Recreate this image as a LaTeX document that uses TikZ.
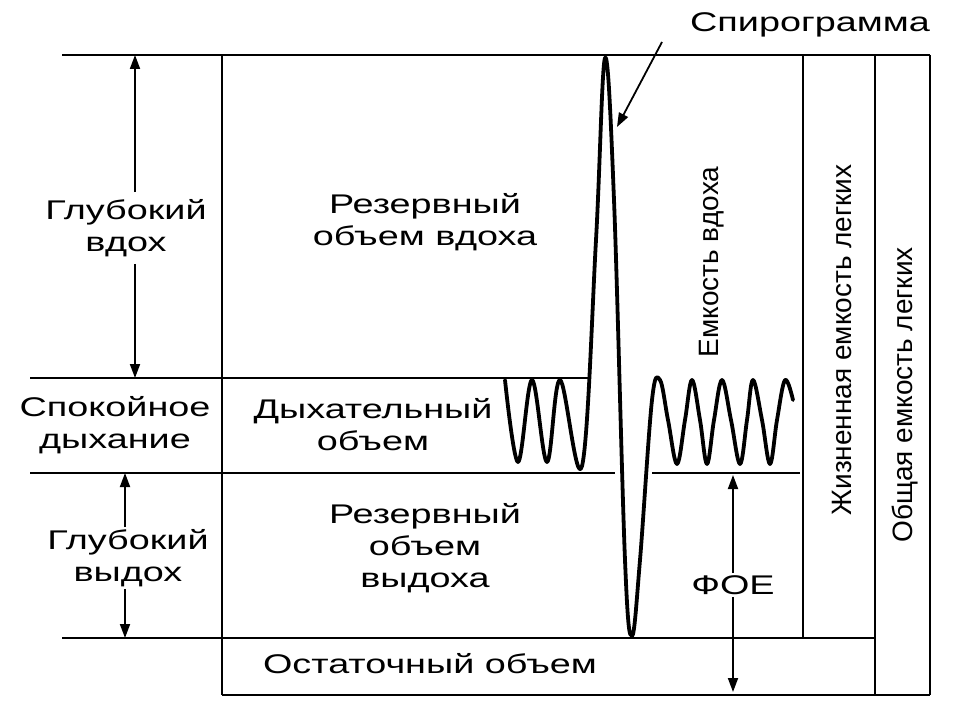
\documentclass[tikz,border=0pt]{standalone}
\usepackage{fontspec}
\setmainfont{Liberation Sans}
\usetikzlibrary{arrows.meta}
\begin{document}
\begin{tikzpicture}[x=1pt,y=-1pt,
  ln/.style={line width=1.8pt},
  lab/.style={font=\fontsize{27}{32}\selectfont,align=center,xscale=1.4,inner sep=2pt},
  rlab/.style={font=\fontsize{28}{32}\selectfont,rotate=90,xscale=1.0},
  arr/.style={ln,-{Triangle[length=14pt,width=10pt]}},
  wave/.style={line width=3.8pt,line join=round,line cap=round}]
\useasboundingbox (0,0) rectangle (962,722);
\fill[white] (0,0) rectangle (962,722);
% frame lines
\draw[ln] (62,55) -- (930,55);
\draw[ln] (30,378) -- (590,378);
\draw[ln] (30,473) -- (615,473);
\draw[ln] (652,473) -- (800,473);
\draw[ln] (62,638) -- (875,638);
\draw[ln] (222,695) -- (930,695);
\draw[ln] (222,55) -- (222,695);
\draw[ln] (803,55) -- (803,638);
\draw[ln] (875,55) -- (875,695);
\draw[ln] (930,55) -- (930,695);
% left labels
\node[lab] (gv) at (126,228) {Глубокий\\вдох};
\node[lab] (sd) at (115,425) {Спокойное\\дыхание};
\node[lab] (gvy) at (128,558) {Глубокий\\выдох};
\coordinate (a1) at (135,55); \coordinate (a2) at (135,378);
\coordinate (b1) at (125,473); \coordinate (b2) at (125,638);
\draw[arr] (gv.north -| a1) ++(0,-5) -- (a1);
\draw[arr] (gv.south -| a2) ++(0,5) -- (a2);
\draw[arr] (gvy.north -| b1) -- (b1);
\draw[arr] (gvy.south -| b2) -- (b2);
% inner labels
\node[lab] (rov) at (425,222) {Резервный\\объем вдоха};
\node[lab] (do) at (373,425) {Дыхательный\\объем};
\node[lab] (rovy) at (425,548) {Резервный\\объем\\выдоха};
\node[lab] (oo) at (430,664) {Остаточный объем};
\node[lab] (foe) at (733,585) {ФОЕ};
\coordinate (f1) at (733,475); \coordinate (f2) at (733,692);
\draw[arr] (foe.north) -- (f1);
\draw[arr] (foe.south) -- (f2);
\node[rlab] (ev) at (712,262) {Емкость вдоха};
\node[rlab] (zhel) at (842,340) {Жизненная емкость легких};
\node[rlab] (oel) at (905,395) {Общая емкость легких};
% spirogram
\node[lab,anchor=center] (sp) at (810,25) {Спирограмма};
\coordinate (sptip) at (617,127);
\draw[arr] (662,42) -- (sptip);
\draw[wave] plot[smooth,tension=0.6] coordinates {
 (505,380) (518,462) (532,380) (547,462) (560,380) (582,466)
 (596,240) (605,58) (614,200) (625,560) (632,636) (640,560) (652,400)
 (660,380) (668,420) (677,464) (685,420) (692,380) (700,420) (707,464) (714,420)
 (722,380) (731,420) (740,464) (747,420) (753,380) (762,420) (770,464) (777,420)
 (785,380) (793,400)};
\end{tikzpicture}
\end{document}
